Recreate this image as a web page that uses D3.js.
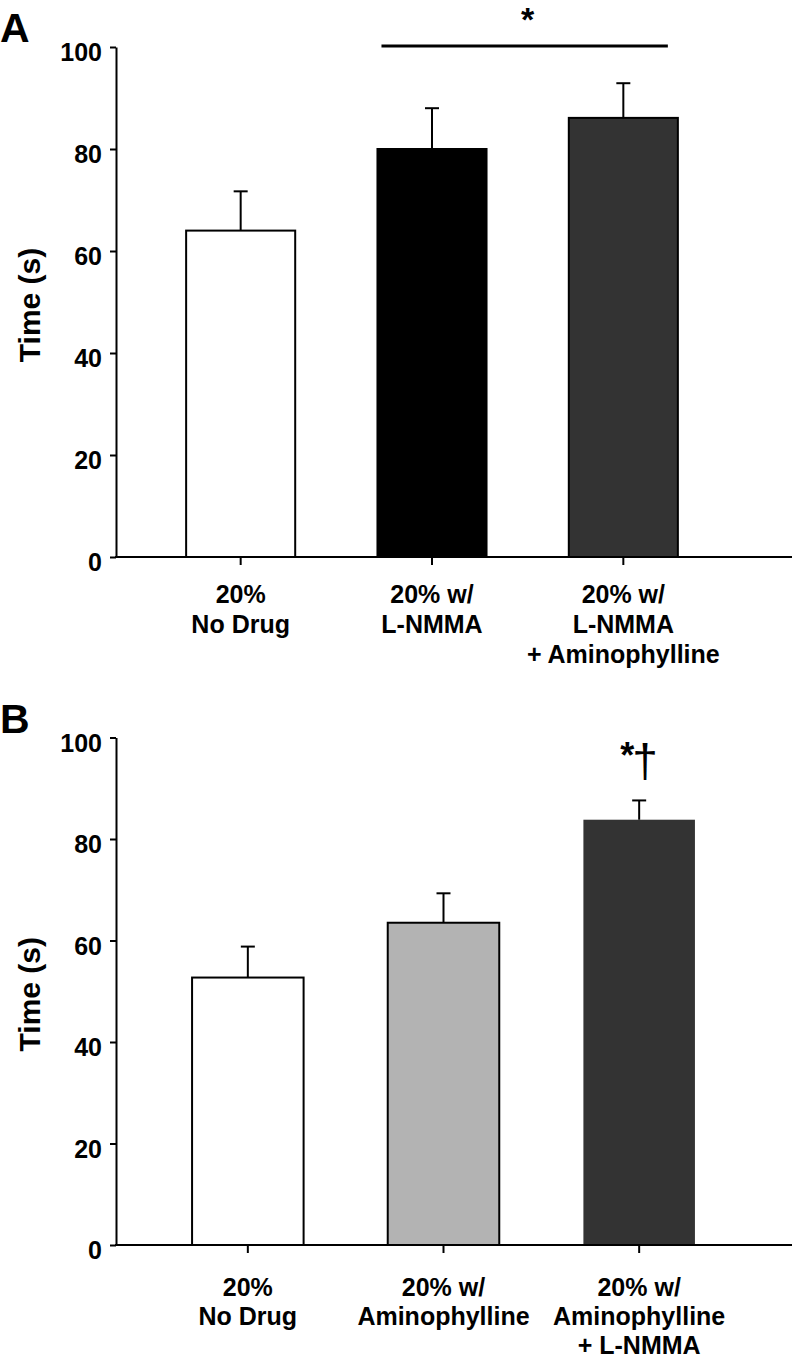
<!DOCTYPE html>
<html><head><meta charset="utf-8">
<script src="https://cdn.jsdelivr.net/npm/d3@7"></script>
<style>
body{margin:0;background:#fff}
svg text{font-family:"Liberation Sans",Arial,Helvetica,sans-serif;font-weight:bold;fill:#000}
</style>
</head><body>
<svg id="chart" width="794" height="1361"></svg>
<script>
// ---- data ----
const categoriesA = [["20%","No Drug"],["20% w/","L-NMMA"],["20% w/","L-NMMA","+ Aminophylline"]];
const meansA = [64.0, 80.0, 86.1];
const semA = [7.7, 8.0, 6.8];
const fillsA = ["#ffffff", "#000000", "#333333"];

const categoriesB = [["20%","No Drug"],["20% w/","Aminophylline"],["20% w/","Aminophylline","+ L-NMMA"]];
const meansB = [52.7, 63.5, 83.8];
const semB = [6.1, 5.8, 3.8];
const fillsB = ["#ffffff", "#b3b3b3", "#333333"];

const yTicks = [0, 20, 40, 60, 80, 100];
const yLabel = "Time (s)";

const svg = d3.select("#chart");
svg.append("rect").attr("width",794).attr("height",1361).attr("fill","#fff");

function drawPanel(cfg){
  const g = svg.append("g");
  const y = d3.scaleLinear().domain([0,100]).range([cfg.bottom, cfg.top]);
  const keys = cfg.categories.map((c,i)=>"c"+i);
  const x = d3.scaleBand().domain(keys).range(cfg.xRange).paddingInner(0.43).paddingOuter(0.215);
  const axisX = 116;

  // bars
  g.selectAll("rect.bar").data(cfg.means).join("rect")
    .attr("class","bar")
    .attr("x",(d,i)=>x(keys[i]))
    .attr("width",x.bandwidth())
    .attr("y",d=>y(d))
    .attr("height",d=>y(0)-y(d))
    .attr("fill",(d,i)=>cfg.fills[i])
    .attr("stroke",(d,i)=>cfg.strokes[i])
    .attr("stroke-width",2);

  // error bars
  cfg.means.forEach((m,i)=>{
    const cx = x(keys[i]) + x.bandwidth()/2;
    g.append("line").attr("x1",cx).attr("x2",cx).attr("y1",y(m)).attr("y2",y(m+cfg.sem[i]))
      .attr("stroke","#000").attr("stroke-width",2);
    g.append("line").attr("x1",cx-7).attr("x2",cx+7).attr("y1",y(m+cfg.sem[i])).attr("y2",y(m+cfg.sem[i]))
      .attr("stroke","#000").attr("stroke-width",2);
  });

  // y axis
  const ya = g.append("g").attr("transform",`translate(${axisX},0)`)
    .call(d3.axisLeft(y).tickValues(yTicks).tickSize(6).tickSizeOuter(0).tickFormat(d3.format("d")));
  ya.selectAll("path,line").attr("stroke","#000").attr("stroke-width",2);
  ya.selectAll("text").attr("x",-14).attr("dy","0.55em")
    .style("font-size","25px").style("font-family",'"Liberation Sans",Arial,sans-serif').style("font-weight","bold");

  // x axis
  g.append("line").attr("x1",axisX-1).attr("x2",792).attr("y1",y(0)).attr("y2",y(0))
    .attr("stroke","#000").attr("stroke-width",2);
  keys.forEach((k,i)=>{
    const cx = x(k)+x.bandwidth()/2;
    g.append("line").attr("x1",cx).attr("x2",cx).attr("y1",y(0)).attr("y2",y(0)+8)
      .attr("stroke","#000").attr("stroke-width",2);
    const t = g.append("text").attr("text-anchor","middle").style("font-size","25px");
    cfg.categories[i].forEach((line,j)=>{
      t.append("tspan").attr("x",cx).attr("y",y(0)+cfg.labelOffset+j*cfg.lineGap).text(line);
    });
  });

  // y label
  const yc = (y(0)+y(100))/2 + 3;
  g.append("text").attr("transform",`translate(40,${yc}) rotate(-90)`)
    .attr("text-anchor","middle").style("font-size","30px").text(yLabel);

  // panel letter
  g.append("text").attr("x",0).attr("y",cfg.letterY).style("font-size","41px").text(cfg.letter);

  return {x, y, keys};
}

const A = drawPanel({categories:categoriesA, means:meansA, sem:semA, fills:fillsA,
  strokes:["#000","#000","#000"], top:47, bottom:557, xRange:[145,719], labelOffset:46, lineGap:30, letter:"A", letterY:42});
const B = drawPanel({categories:categoriesB, means:meansB, sem:semB, fills:fillsB,
  strokes:["#000","#000","none"], top:737.5, bottom:1245, xRange:[150,737], labelOffset:51, lineGap:29, letter:"B", letterY:733});

// significance annotations
{
  const {x,y,keys} = A;
  const x1 = x(keys[1]) + 4, x2 = x(keys[2]) + x.bandwidth() - 10;
  svg.append("line").attr("x1",x1).attr("x2",x2).attr("y1",y(100)-1).attr("y2",y(100)-1)
    .attr("stroke","#000").attr("stroke-width",3);
  svg.append("text").attr("x",(x1+x2)/2 + 3).attr("y",31).attr("text-anchor","middle")
    .style("font-size","34px").text("*");
}
{
  const {x,y,keys} = B;
  const cx = x(keys[2]) + x.bandwidth()/2;
  const capY = y(meansB[2]+semB[2]);
  svg.append("text").attr("x",cx-12).attr("y",capY-32).attr("text-anchor","middle")
    .style("font-size","36px").text("*");
  svg.append("text").attr("x",cx+6).attr("y",capY-23).attr("text-anchor","middle")
    .style("font-size","46px").style("font-weight","normal").text("†");
}
</script>
</body></html>
